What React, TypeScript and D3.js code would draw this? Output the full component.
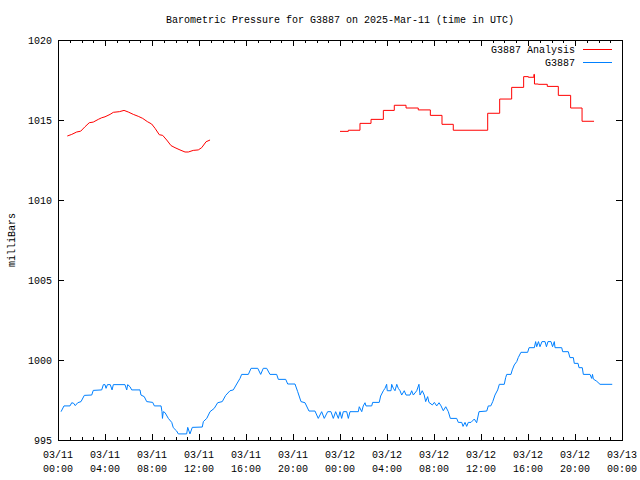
import React from "react";
import * as d3 from "d3";

// ---- data (hours since 2025-03-11 00:00 UTC, pressure in mb) ----
const analysisHours1 = [0.79, 1.17, 1.59, 1.93, 2.3, 2.66, 3.0, 3.43, 3.72, 4.0, 4.43, 4.71, 5.22, 5.62, 5.98, 6.41, 6.83, 7.21, 7.6, 7.97, 8.26, 8.62, 8.91, 9.25, 9.62, 9.96, 10.38, 10.81, 11.09, 11.51, 11.94, 12.23, 12.6, 12.94];
const analysisValues1 = [1014.0, 1014.1, 1014.25, 1014.3, 1014.58, 1014.83, 1014.87, 1015.04, 1015.14, 1015.2, 1015.35, 1015.48, 1015.52, 1015.6, 1015.5, 1015.35, 1015.23, 1015.1, 1014.9, 1014.75, 1014.48, 1014.08, 1014.04, 1013.75, 1013.4, 1013.27, 1013.13, 1013.0, 1013.0, 1013.1, 1013.13, 1013.27, 1013.64, 1013.75];

const analysisHours2 = [24.0, 24.71, 25.7, 26.64, 27.69, 28.62, 29.62, 30.66, 31.69, 32.68, 33.64, 36.57, 37.59, 38.61, 39.63, 40.03, 40.5, 40.55, 40.88, 41.64, 42.58, 43.63, 44.6, 45.62];
const analysisValues2 = [1014.29, 1014.36, 1014.79, 1015.04, 1015.6, 1015.92, 1015.75, 1015.63, 1015.29, 1014.73, 1014.36, 1015.42, 1016.31, 1017.04, 1017.71, 1017.67, 1017.85, 1017.25, 1017.23, 1017.1, 1016.54, 1015.75, 1014.92, 1014.92];

const stationHours = [0.26, 0.51, 1.02, 1.17, 1.34, 1.47, 1.68, 1.96, 2.24, 2.87, 3.0, 3.72, 3.86, 4.0, 4.09, 4.21, 4.45, 4.6, 4.71, 5.7, 5.85, 5.93, 6.13, 6.27, 6.98, 7.06, 7.34, 7.55, 8.06, 8.2, 8.77, 8.85, 8.89, 8.96, 9.11, 9.39, 9.68, 9.81, 10.1, 10.24, 10.95, 11.04, 11.23, 11.43, 12.28, 12.37, 12.66, 12.94, 13.3, 13.59, 13.98, 14.27, 14.64, 14.92, 15.21, 15.49, 15.63, 16.2, 16.43, 17.0, 17.25, 17.47, 17.76, 18.04, 18.61, 18.75, 19.38, 19.55, 20.17, 20.4, 20.68, 21.02, 21.36, 21.87, 22.15, 22.44, 22.66, 22.95, 23.23, 23.43, 23.63, 23.86, 24.0, 24.14, 24.28, 24.57, 24.71, 24.85, 25.56, 25.64, 25.85, 25.98, 26.13, 26.21, 26.7, 26.78, 27.34, 27.46, 27.69, 27.83, 27.97, 28.02, 28.34, 28.4, 28.54, 28.68, 28.83, 28.96, 29.11, 29.25, 29.47, 29.62, 29.96, 30.1, 30.24, 30.53, 30.72, 30.81, 31.0, 31.17, 31.29, 31.46, 31.57, 31.86, 32.03, 32.23, 32.43, 32.6, 32.79, 33.0, 33.22, 33.39, 33.93, 34.07, 34.36, 34.47, 34.64, 34.78, 34.92, 35.15, 35.43, 35.63, 35.83, 36.49, 36.62, 36.83, 37.0, 37.19, 37.42, 37.56, 37.98, 38.1, 38.19, 38.55, 38.66, 38.83, 39.04, 39.17, 39.4, 39.97, 40.09, 40.54, 40.65, 40.74, 40.89, 41.02, 41.19, 41.45, 41.57, 41.7, 41.96, 42.09, 42.24, 42.3, 42.87, 42.95, 43.43, 43.57, 43.86, 43.94, 44.26, 44.34, 44.62, 44.71, 45.28, 45.42, 45.49, 45.56, 45.85, 46.13, 47.17];
const stationValues = [996.77, 997.13, 997.13, 997.33, 997.29, 997.15, 997.33, 997.4, 997.79, 997.81, 998.1, 998.13, 998.46, 998.46, 998.23, 998.46, 998.46, 998.13, 998.46, 998.46, 998.13, 998.46, 998.33, 998.13, 998.13, 997.81, 997.71, 997.4, 997.35, 997.13, 997.13, 996.77, 996.35, 996.77, 996.71, 996.35, 996.1, 995.77, 995.56, 995.38, 995.38, 995.79, 995.38, 995.79, 995.81, 996.15, 996.35, 996.77, 996.98, 997.33, 997.4, 997.79, 998.08, 998.13, 998.5, 998.85, 999.1, 999.1, 999.48, 999.48, 999.1, 999.48, 999.48, 999.1, 999.1, 998.79, 998.79, 998.5, 998.5, 998.02, 997.4, 997.33, 996.81, 996.81, 996.35, 996.77, 996.35, 996.77, 996.77, 996.35, 996.77, 996.35, 996.77, 996.35, 996.77, 996.77, 996.35, 996.77, 996.77, 997.08, 996.77, 997.13, 997.33, 997.13, 997.13, 997.35, 997.35, 997.75, 998.08, 998.23, 998.48, 998.08, 998.08, 998.48, 998.23, 998.08, 998.48, 998.23, 998.08, 997.81, 998.08, 997.81, 997.81, 998.08, 997.81, 998.08, 998.48, 997.81, 998.08, 997.81, 997.4, 997.71, 997.35, 997.19, 997.35, 997.13, 997.33, 997.13, 996.83, 997.08, 996.77, 996.35, 996.35, 996.1, 996.1, 995.85, 996.1, 995.85, 996.1, 996.1, 996.31, 996.08, 996.77, 996.81, 997.13, 997.13, 997.4, 997.81, 998.13, 998.48, 998.48, 998.9, 999.1, 999.1, 999.38, 999.69, 999.9, 1000.15, 1000.48, 1000.48, 1000.77, 1000.77, 1001.15, 1000.83, 1001.15, 1000.83, 1001.15, 1001.15, 1000.83, 1001.15, 1001.15, 1000.83, 1001.15, 1000.77, 1000.77, 1000.52, 1000.52, 1000.15, 1000.15, 999.79, 999.79, 999.52, 999.52, 999.1, 999.1, 998.85, 999.1, 998.81, 998.67, 998.48, 998.48];

const yTicks = [995, 1000, 1005, 1010, 1015, 1020];
const seriesNames = ["G3887 Analysis", "G3887"];
const seriesColors = ["#ff0000", "#0080ff"];
const titleText = "Barometric Pressure for G3887 on 2025-Mar-11 (time in UTC)";
const yLabel = "milliBars";

const W = 640, H = 480;
const L = 58, R = 622, T = 40, B = 440;
const FONT = "'Liberation Mono', 'DejaVu Sans Mono', monospace";
const start = Date.UTC(2025, 2, 11);

export default function App() {
  const x = d3.scaleUtc().domain([new Date(start), new Date(start + 48 * 3600e3)]).range([L, R]);
  const y = d3.scaleLinear().domain([995, 1020]).range([B, T]);
  const toDate = (h: number) => new Date(start + h * 3600e3);

  const line = d3.line<[number, number]>().x(d => x(toDate(d[0]))).y(d => y(d[1]));
  const stepLine = d3.line<[number, number]>().x(d => x(toDate(d[0]))).y(d => y(d[1])).curve(d3.curveStepAfter);

  const a1 = analysisHours1.map((h, i) => [h, analysisValues1[i]] as [number, number]);
  const a2 = analysisHours2.map((h, i) => [h, analysisValues2[i]] as [number, number]);
  const st = stationHours.map((h, i) => [h, stationValues[i]] as [number, number]);

  const majorX = x.ticks(d3.utcHour.every(4)!);
  const minorX = x.ticks(d3.utcHour.every(1)!);
  const fmtD = d3.utcFormat("%m/%d");
  const fmtT = d3.utcFormat("%H:%M");

  return (
    <svg width={W} height={H} style={{ position: "absolute", left: 0, top: 0, background: "#fff" }} fontFamily={FONT} fontSize={10}>
      <rect x={0} y={0} width={W} height={H} fill="#fff" />
      <text x={340} y={23} textAnchor="middle" fill="#000">{titleText}</text>
      <text transform={`translate(15,${(T + B) / 2}) rotate(-90)`} textAnchor="middle" fill="#000">{yLabel}</text>

      <g shapeRendering="crispEdges" stroke="#000" strokeWidth={1}>
        {minorX.map((d, i) => (
          <g key={"mx" + i}>
            <line x1={Math.round(x(d)) + 0.5} x2={Math.round(x(d)) + 0.5} y1={B} y2={B - 3} />
            <line x1={Math.round(x(d)) + 0.5} x2={Math.round(x(d)) + 0.5} y1={T} y2={T + 3} />
          </g>
        ))}
        {majorX.map((d, i) => (
          <g key={"Mx" + i}>
            <line x1={Math.round(x(d)) + 0.5} x2={Math.round(x(d)) + 0.5} y1={B} y2={B - 6} />
            <line x1={Math.round(x(d)) + 0.5} x2={Math.round(x(d)) + 0.5} y1={T} y2={T + 6} />
          </g>
        ))}
        {yTicks.map((v, i) => (
          <g key={"y" + i}>
            <line x1={L} x2={L + 6} y1={Math.round(y(v)) + 0.5} y2={Math.round(y(v)) + 0.5} />
            <line x1={R} x2={R - 6} y1={Math.round(y(v)) + 0.5} y2={Math.round(y(v)) + 0.5} />
          </g>
        ))}
      </g>

      {yTicks.map((v, i) => (
        <text key={"yl" + i} x={52} y={y(v) + 4} textAnchor="end" fill="#000">{v}</text>
      ))}
      {majorX.map((d, i) => (
        <g key={"xl" + i}>
          <text x={x(d)} y={458} textAnchor="middle" fill="#000">{fmtD(d)}</text>
          <text x={x(d)} y={472} textAnchor="middle" fill="#000">{fmtT(d)}</text>
        </g>
      ))}

      <g fill="none" strokeWidth={1}>
        <path d={line(a1) || ""} stroke={seriesColors[0]} />
        <path d={stepLine(a2) || ""} stroke={seriesColors[0]} />
        <path d={line(st) || ""} stroke={seriesColors[1]} />
      </g>

      {seriesNames.map((n, i) => (
        <g key={"lg" + i}>
          <text x={575} y={53 + i * 13} textAnchor="end" fill="#000">{n}</text>
          <line x1={583} x2={612} y1={49.5 + i * 13} y2={49.5 + i * 13} stroke={seriesColors[i]} shapeRendering="crispEdges" />
        </g>
      ))}

      <rect x={L + 0.5} y={T + 0.5} width={R - L} height={B - T} fill="none" stroke="#000" shapeRendering="crispEdges" />
    </svg>
  );
}
